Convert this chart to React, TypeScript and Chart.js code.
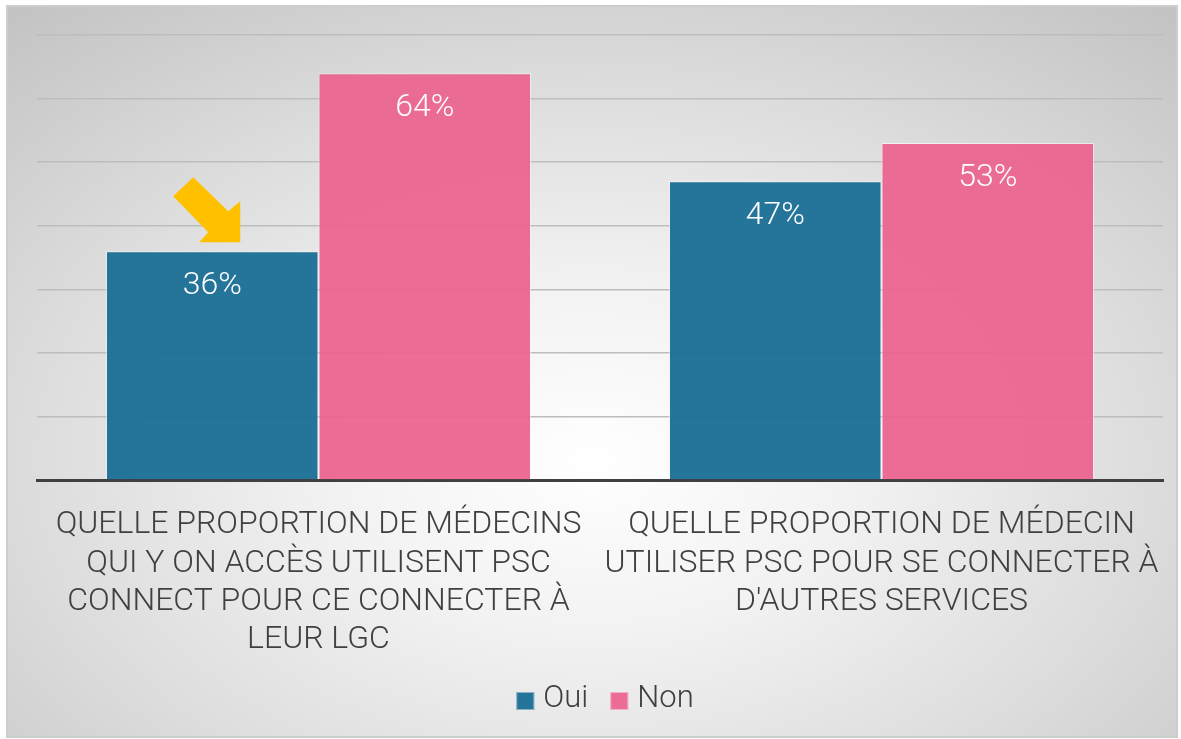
import React, { useEffect, useRef } from "react";
import { Chart, registerables } from "chart.js";

Chart.register(...registerables);

const categories: string[][] = [
  ["QUELLE PROPORTION DE MÉDECINS", "QUI Y ON ACCÈS UTILISENT PSC", "CONNECT POUR CE CONNECTER À", "LEUR LGC"],
  ["QUELLE PROPORTION DE MÉDECIN", "UTILISER PSC POUR SE CONNECTER À", "D'AUTRES SERVICES"],
];
const seriesNames = ["Oui", "Non"];
const ouiValues = [36, 47];
const nonValues = [64, 53];
const yMin = 0;
const yMax = 70;
const yStep = 10;
const seriesColors = ["rgba(30,111,150,0.97)", "rgba(235,98,141,0.93)"];
const highlightIndex = 0;

const FONT = "Roboto, 'Noto Sans', sans-serif";

const valueLabelsPlugin = {
  id: "valueLabels",
  afterDatasetsDraw(chart: any) {
    const ctx = chart.ctx;
    ctx.save();
    ctx.fillStyle = "#ffffff";
    ctx.font = `300 32px ${FONT}`;
    ctx.textAlign = "center";
    ctx.textBaseline = "middle";
    chart.data.datasets.forEach((ds: any, di: number) => {
      const meta = chart.getDatasetMeta(di);
      meta.data.forEach((el: any, i: number) => {
        ctx.fillText(`${ds.data[i]}%`, el.x, el.y + 35);
      });
    });
    ctx.restore();
  },
};

const arrowPlugin = {
  id: "arrowMark",
  afterDatasetsDraw(chart: any) {
    const meta = chart.getDatasetMeta(0);
    const el = meta.data[highlightIndex];
    if (!el) return;
    const tx = el.x + 28;
    const ty = el.y - 9;
    const pts = [
      [0, 0],
      [0, -41],
      [-12, -31],
      [-47, -65],
      [-67, -46],
      [-32, -10],
      [-41, 0],
    ];
    const ctx = chart.ctx;
    ctx.save();
    ctx.fillStyle = "#FFC000";
    ctx.beginPath();
    pts.forEach(([dx, dy], i) => {
      if (i === 0) ctx.moveTo(tx + dx, ty + dy);
      else ctx.lineTo(tx + dx, ty + dy);
    });
    ctx.closePath();
    ctx.fill();
    ctx.restore();
  },
};

const legendPlugin = {
  id: "customLegend",
  afterDraw(chart: any) {
    const ctx = chart.ctx;
    const area = chart.chartArea;
    const box = 18;
    const textGap = 9;
    const itemGap = 22;
    ctx.save();
    ctx.font = `300 31px ${FONT}`;
    ctx.textBaseline = "middle";
    ctx.textAlign = "left";
    const items = chart.data.datasets.map((ds: any) => ({
      label: ds.label,
      color: ds.backgroundColor,
      w: box + textGap + ctx.measureText(ds.label).width,
    }));
    const total = items.reduce((s: number, it: any) => s + it.w, 0) + itemGap * (items.length - 1);
    let x = (area.left + area.right) / 2 + 5 - total / 2;
    const y = chart.height - 37;
    items.forEach((it: any) => {
      ctx.fillStyle = it.color;
      ctx.fillRect(x, y - box / 2 + 2, box, box);
      ctx.strokeStyle = "rgba(255,255,255,0.45)";
      ctx.lineWidth = 1;
      ctx.strokeRect(x + 0.5, y - box / 2 + 2.5, box - 1, box - 1);
      ctx.fillStyle = "#404040";
      ctx.fillText(it.label, x + box + textGap, y);
      x += it.w + itemGap;
    });
    ctx.restore();
  },
};

export default function App() {
  const ref = useRef<HTMLCanvasElement | null>(null);

  useEffect(() => {
    if (!ref.current) return;
    const chart = new Chart(ref.current, {
      type: "bar",
      data: {
        labels: categories,
        datasets: [
          {
            label: seriesNames[0],
            data: ouiValues,
            backgroundColor: seriesColors[0],
            borderColor: "rgba(255,255,255,0.55)",
            borderWidth: 1,
          },
          {
            label: seriesNames[1],
            data: nonValues,
            backgroundColor: seriesColors[1],
            borderColor: "rgba(255,255,255,0.55)",
            borderWidth: 1,
          },
        ],
      },
      options: {
        animation: false,
        responsive: true,
        maintainAspectRatio: false,
        layout: { padding: { left: 29, right: 13, top: 28, bottom: 62 } },
        datasets: { bar: { categoryPercentage: 0.755, barPercentage: 1 } },
        scales: {
          x: {
            grid: { display: false },
            border: { display: true, color: "#404040", width: 3 },
            ticks: {
              color: "#404040",
              font: { family: FONT, size: 32, weight: "300", lineHeight: 1.2 },
              padding: 18,
              maxRotation: 0,
              minRotation: 0,
              autoSkip: false,
            },
            afterFit: (scale: any) => {
              scale.height = 194;
              scale.paddingLeft = 0;
              scale.paddingRight = 0;
            },
          },
          y: {
            min: yMin,
            max: yMax,
            ticks: { display: false, stepSize: yStep },
            border: { display: false },
            grid: { color: "#bdbdbd", lineWidth: 1.5, drawTicks: false },
            afterFit: (scale: any) => {
              scale.width = 0;
            },
          },
        },
        plugins: {
          legend: { display: false },
          tooltip: { enabled: false },
        },
      },
      plugins: [valueLabelsPlugin, arrowPlugin, legendPlugin],
    });
    return () => chart.destroy();
  }, []);

  return (
    <div style={{ position: "absolute", left: 0, top: 0, width: 1181, height: 739, background: "#ffffff" }}>
      <div
        style={{
          position: "absolute",
          left: 6,
          top: 5,
          width: 1172,
          height: 733,
          boxSizing: "border-box",
          border: "2px solid #cdcdcd",
          background:
            "radial-gradient(ellipse 75% 80% at 50% 62%, #ffffff 0%, #f2f2f2 30%, #dcdcdc 65%, #c4c4c4 100%)",
        }}
      >
        <canvas ref={ref} style={{ display: "block", width: "100%", height: "100%" }} />
      </div>
    </div>
  );
}
